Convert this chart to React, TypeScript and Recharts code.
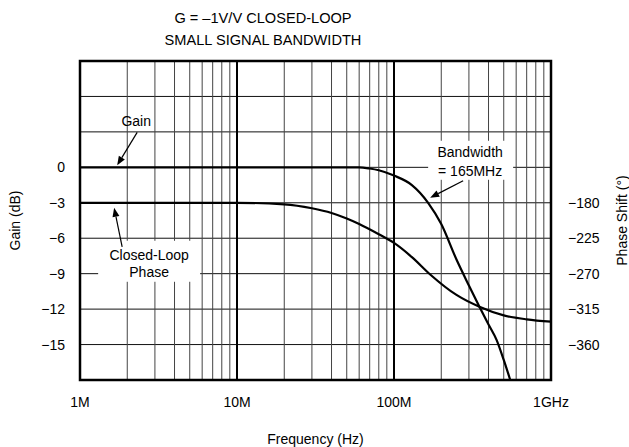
import React from 'react';
import {
  LineChart,
  Line,
  XAxis,
  YAxis,
  CartesianGrid,
  ReferenceLine,
  ReferenceArea,
  ReferenceDot,
} from 'recharts';

// frequency axis (Hz), log scale 1M .. 1G
const xTicks = [
  1e6, 2e6, 3e6, 4e6, 5e6, 6e6, 7e6, 8e6, 9e6,
  1e7, 2e7, 3e7, 4e7, 5e7, 6e7, 7e7, 8e7, 9e7,
  1e8, 2e8, 3e8, 4e8, 5e8, 6e8, 7e8, 8e8, 9e8,
  1e9,
];
const xLabels: Record<number, string> = { 1e6: '1M', 1e7: '10M', 1e8: '100M', 1e9: '1GHz' };
const decades = [1e7, 1e8];

const gainTicks = [9, 6, 3, 0, -3, -6, -9, -12, -15, -18];
const gainLabelled = [0, -3, -6, -9, -12, -15];
const phaseTicks = [-180, -225, -270, -315, -360];

// gain (dB)
const gainFreq = [1e6, 1e7, 3e7, 6e7, 7e7, 8e7, 1e8, 1.3e8, 1.65e8, 2e8, 2.5e8, 3e8, 3.5e8, 4e8, 4.5e8, 5e8, 5.5e8];
const gainDb = [0, 0, 0, 0, -0.1, -0.25, -0.7, -1.5, -3, -4.8, -7.8, -10, -11.8, -13.3, -14.6, -16.3, -18];

// closed-loop phase (degrees)
const phaseFreq = [1e6, 1e7, 2e7, 3e7, 4e7, 5e7, 6e7, 8e7, 1e8, 1.3e8, 1.7e8, 2.5e8, 3.5e8, 5e8, 7e8, 1e9];
const phaseDeg = [-180, -180, -182, -187, -193, -200, -207, -220, -231, -249, -271, -297, -312, -323, -328, -331];

const gainData = gainFreq.map((f, i) => ({ f, gain: gainDb[i] }));
const phaseData = phaseFreq.map((f, i) => ({ f, phase: phaseDeg[i] }));

const FONT = '"Liberation Sans", Arial, sans-serif';
const minus = (v: number) => (v < 0 ? '\u2212' + Math.abs(v) : String(v));

const Arrow = ({ x1, y1, x2, y2 }: { x1: number; y1: number; x2: number; y2: number }) => {
  const a = Math.atan2(y2 - y1, x2 - x1);
  const L = 9;
  const W = 3.5;
  const bx = x2 - L * Math.cos(a);
  const by = y2 - L * Math.sin(a);
  const pts = [
    [x2, y2],
    [bx + W * Math.sin(a), by - W * Math.cos(a)],
    [bx - W * Math.sin(a), by + W * Math.cos(a)],
  ]
    .map((p) => p.join(','))
    .join(' ');
  return (
    <g>
      <line x1={x1} y1={y1} x2={bx} y2={by} stroke="#000" strokeWidth={1.2} />
      <polygon points={pts} fill="#000" />
    </g>
  );
};

const txt = { fontSize: 14, fontFamily: FONT, fill: '#000' } as const;

const GainNote = ({ cx, cy }: any) => (
  <g>
    <text x={cx + 20} y={cy - 46} textAnchor="middle" dominantBaseline="central" style={txt}>Gain</text>
    <Arrow x1={cx + 21} y1={cy - 35} x2={cx + 1} y2={cy - 2} />
  </g>
);

const PhaseNote = ({ cx, cy }: any) => (
  <g>
    <rect x={cx - 16} y={cy + 38} width={102} height={41} fill="#fff" />
    <text x={cx + 35} y={cy + 52} textAnchor="middle" dominantBaseline="central" style={txt}>Closed-Loop</text>
    <text x={cx + 35} y={cy + 69} textAnchor="middle" dominantBaseline="central" style={txt}>Phase</text>
    <Arrow x1={cx + 8} y1={cy + 44} x2={cx} y2={cy + 5} />
  </g>
);

const BandwidthNote = ({ cx, cy }: any) => (
  <g>
    <rect x={cx} y={cy - 62} width={85} height={39} fill="#fff" />
    <text x={cx + 42} y={cy - 51} textAnchor="middle" dominantBaseline="central" style={txt}>Bandwidth</text>
    <text x={cx + 42} y={cy - 32} textAnchor="middle" dominantBaseline="central" style={txt}>= 165MHz</text>
    <Arrow x1={cx + 35} y1={cy - 22} x2={cx + 2} y2={cy - 5} />
  </g>
);

export default function App() {
  return (
    <div style={{ position: 'absolute', left: 0, top: 0, width: 629, height: 447, background: '#fff', fontFamily: FONT }}>
      <div style={{ position: 'absolute', left: 0, top: 7, width: 526, textAlign: 'center', fontSize: 14.6, lineHeight: '22px', color: '#000' }}>
        <div>G = –1V/V CLOSED-LOOP</div>
        <div>SMALL SIGNAL BANDWIDTH</div>
      </div>
      <LineChart
        width={629}
        height={447}
        margin={{ top: 61, right: 0, bottom: 3, left: 0 }}
        style={{ fontFamily: FONT }}
      >
        <CartesianGrid yAxisId="gain" vertical={false} stroke="#111" strokeWidth={1} />
        <CartesianGrid yAxisId="gain" horizontal={false} stroke="#444" strokeWidth={1} />
        <XAxis
          dataKey="f"
          type="number"
          scale="log"
          domain={[1e6, 1e9]}
          ticks={xTicks}
          interval={0}
          allowDuplicatedCategory={false}
          tickFormatter={(v: number) => xLabels[v] ?? ''}
          tickLine={false}
          axisLine={false}
          tickMargin={11}
          tick={{ ...txt }}
          height={64}
          label={{ value: 'Frequency (Hz)', position: 'insideBottom', offset: 0, style: { ...txt } }}
        />
        <YAxis
          yAxisId="gain"
          domain={[-18, 9]}
          ticks={gainTicks}
          interval={0}
          tickFormatter={(v: number) => (gainLabelled.includes(v) ? minus(v) : '')}
          tickLine={false}
          axisLine={false}
          tickMargin={9}
          tick={{ ...txt }}
          width={80}
          label={{ value: 'Gain (dB)', angle: -90, position: 'insideLeft', offset: 15, style: { ...txt, textAnchor: 'middle' } }}
        />
        <YAxis
          yAxisId="phase"
          orientation="right"
          domain={[-405, 0]}
          ticks={phaseTicks}
          interval={0}
          tickFormatter={(v: number) => minus(v)}
          tickLine={false}
          axisLine={false}
          tickMargin={11}
          tick={{ ...txt, textAnchor: 'start' }}
          width={78}
          label={{ value: 'Phase Shift (°)', angle: -90, position: 'insideRight', offset: 7, style: { ...txt, textAnchor: 'middle' } }}
        />
        {decades.map((d) => (
          <ReferenceLine key={d} yAxisId="gain" x={d} stroke="#000" strokeWidth={2} />
        ))}
        <ReferenceArea yAxisId="gain" x1={1e6} x2={1e9} y1={-18} y2={9} fill="none" fillOpacity={0} stroke="#000" strokeWidth={2.5} />
        <Line
          data={gainData}
          yAxisId="gain"
          dataKey="gain"
          type="monotone"
          dot={false}
          stroke="#000"
          strokeWidth={2.2}
          isAnimationActive={false}
        />
        <Line
          data={phaseData}
          yAxisId="phase"
          dataKey="phase"
          type="monotone"
          dot={false}
          stroke="#000"
          strokeWidth={2.2}
          isAnimationActive={false}
        />
        <ReferenceDot yAxisId="gain" x={1.7e6} y={0} r={0} shape={(p: any) => <GainNote {...p} />} />
        <ReferenceDot yAxisId="phase" x={1.65e6} y={-180} r={0} shape={(p: any) => <PhaseNote {...p} />} />
        <ReferenceDot yAxisId="gain" x={1.65e8} y={-3} r={0} shape={(p: any) => <BandwidthNote {...p} />} />
      </LineChart>
    </div>
  );
}
